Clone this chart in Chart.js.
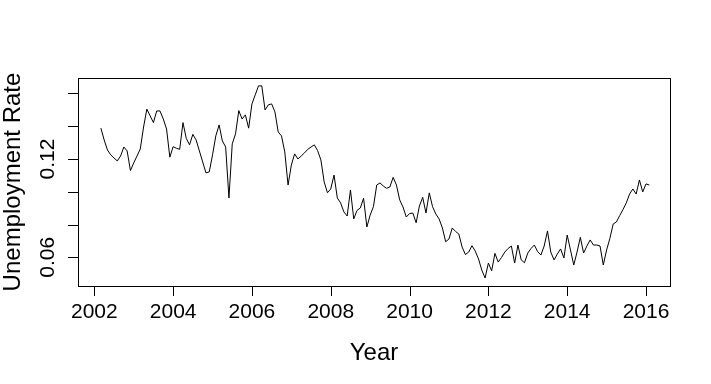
<!DOCTYPE html>
<html>
<head>
<meta charset="utf-8">
<script src="https://cdn.jsdelivr.net/npm/chart.js@4"></script>
<style>
  body { margin: 0; background: #fff; }
</style>
</head>
<body>
<canvas id="rateChart" width="711" height="384"></canvas>
<script>
// monthly series, first value is March 2002
const startYear = 2002;
const startMonth = 3;
const rates = [
  0.1388, 0.1316, 0.1255, 0.1225, 0.1206, 0.1188, 0.1218, 0.1273, 0.1249, 0.1129,
  0.1176, 0.1218, 0.1261, 0.1395, 0.1504, 0.1463, 0.1422, 0.1493, 0.1493, 0.1444,
  0.1383, 0.1211, 0.1275, 0.1265, 0.1259, 0.1422, 0.1326, 0.1286, 0.1350, 0.1316,
  0.1249, 0.1182, 0.1115, 0.1121, 0.1225, 0.1341, 0.1408, 0.1310, 0.1273, 0.0962,
  0.1292, 0.1353, 0.1495, 0.1444, 0.1469, 0.1388, 0.1536, 0.1591, 0.1646, 0.1646,
  0.1499, 0.1530, 0.1536, 0.1487, 0.1365, 0.1341, 0.1243, 0.1041, 0.1163, 0.1231,
  0.1200, 0.1218, 0.1237, 0.1259, 0.1273, 0.1286, 0.1251, 0.1194, 0.1060, 0.0994,
  0.1017, 0.1102, 0.0962, 0.0932, 0.0877, 0.0852, 0.1011, 0.0834, 0.0886, 0.0901,
  0.0960, 0.0785, 0.0858, 0.0909, 0.1041, 0.1054, 0.1035, 0.1021, 0.1029, 0.1088,
  0.1041, 0.0950, 0.0907, 0.0846, 0.0867, 0.0870, 0.0811, 0.0913, 0.0966, 0.0870,
  0.0993, 0.0909, 0.0864, 0.0834, 0.0779, 0.0695, 0.0712, 0.0779, 0.0758, 0.0742,
  0.0663, 0.0617, 0.0632, 0.0671, 0.0638, 0.0590, 0.0522, 0.0474, 0.0565, 0.0518,
  0.0624, 0.0571, 0.0599, 0.0632, 0.0654, 0.0669, 0.0565, 0.0675, 0.0584, 0.0567,
  0.0626, 0.0654, 0.0675, 0.0635, 0.0614, 0.0669, 0.0761, 0.0632, 0.0584, 0.0620,
  0.0651, 0.0596, 0.0736, 0.0645, 0.0553, 0.0632, 0.0722, 0.0626, 0.0669, 0.0706,
  0.0675, 0.0675, 0.0669, 0.0553, 0.0645, 0.0715, 0.0803, 0.0816, 0.0855, 0.0892,
  0.0932, 0.0986, 0.1017, 0.0986, 0.1072, 0.0999, 0.1048, 0.1041
];
const xTicks = [2002, 2004, 2006, 2008, 2010, 2012, 2014, 2016];
const yTicks = [0.06, 0.08, 0.10, 0.12, 0.14, 0.16];
const yTickLabels = ["0.06", "", "", "0.12", "", ""];
const xTitle = "Year";
const yTitle = "Unemployment Rate";

const points = rates.map((r, i) => ({ x: startYear + (startMonth - 1 + i) / 12, y: r }));

const font = "'Liberation Sans', Arial, sans-serif";

// base-R style box, ticks and labels
const rAxes = {
  id: "rAxes",
  afterDraw(chart) {
    const { ctx, chartArea: a, scales } = chart;
    const x = scales.x, y = scales.y;
    ctx.save();
    ctx.strokeStyle = "#000";
    ctx.fillStyle = "#000";
    ctx.lineWidth = 1;
    ctx.strokeRect(a.left + 0.5, a.top + 0.5, a.right - a.left, a.bottom - a.top);

    ctx.beginPath();
    xTicks.forEach((t) => {
      const px = Math.round(x.getPixelForValue(t)) + 0.5;
      ctx.moveTo(px, a.bottom);
      ctx.lineTo(px, a.bottom + 10);
    });
    yTicks.forEach((t) => {
      const py = Math.round(y.getPixelForValue(t)) + 0.5;
      ctx.moveTo(a.left, py);
      ctx.lineTo(a.left - 10, py);
    });
    ctx.stroke();

    ctx.font = "21px " + font;
    ctx.textAlign = "center";
    ctx.textBaseline = "alphabetic";
    xTicks.forEach((t) => ctx.fillText(String(t), x.getPixelForValue(t), a.bottom + 32));

    yTicks.forEach((t, i) => {
      if (!yTickLabels[i]) return;
      ctx.save();
      ctx.translate(a.left - 24, y.getPixelForValue(t));
      ctx.rotate(-Math.PI / 2);
      ctx.fillText(yTickLabels[i], 0, 0);
      ctx.restore();
    });

    ctx.font = "24px " + font;
    ctx.fillText(xTitle, (a.left + a.right) / 2, a.bottom + 74);
    ctx.save();
    ctx.translate(a.left - 58, (a.top + a.bottom) / 2);
    ctx.rotate(-Math.PI / 2);
    ctx.fillText(yTitle, 0, 0);
    ctx.restore();
    ctx.restore();
  },
};

new Chart(document.getElementById("rateChart").getContext("2d"), {
  type: "line",
  data: {
    datasets: [
      {
        data: points,
        borderColor: "#000",
        borderWidth: 1,
        pointRadius: 0,
        tension: 0,
        fill: false,
      },
    ],
  },
  options: {
    responsive: false,
    animation: false,
    layout: { padding: { left: 78, right: 41, top: 78, bottom: 98 } },
    plugins: { legend: { display: false }, tooltip: { enabled: false } },
    scales: {
      x: { type: "linear", min: 2001.586, max: 2016.609, display: false },
      y: { min: 0.0425, max: 0.1694, display: false },
    },
  },
  plugins: [rAxes],
});
</script>
</body>
</html>
